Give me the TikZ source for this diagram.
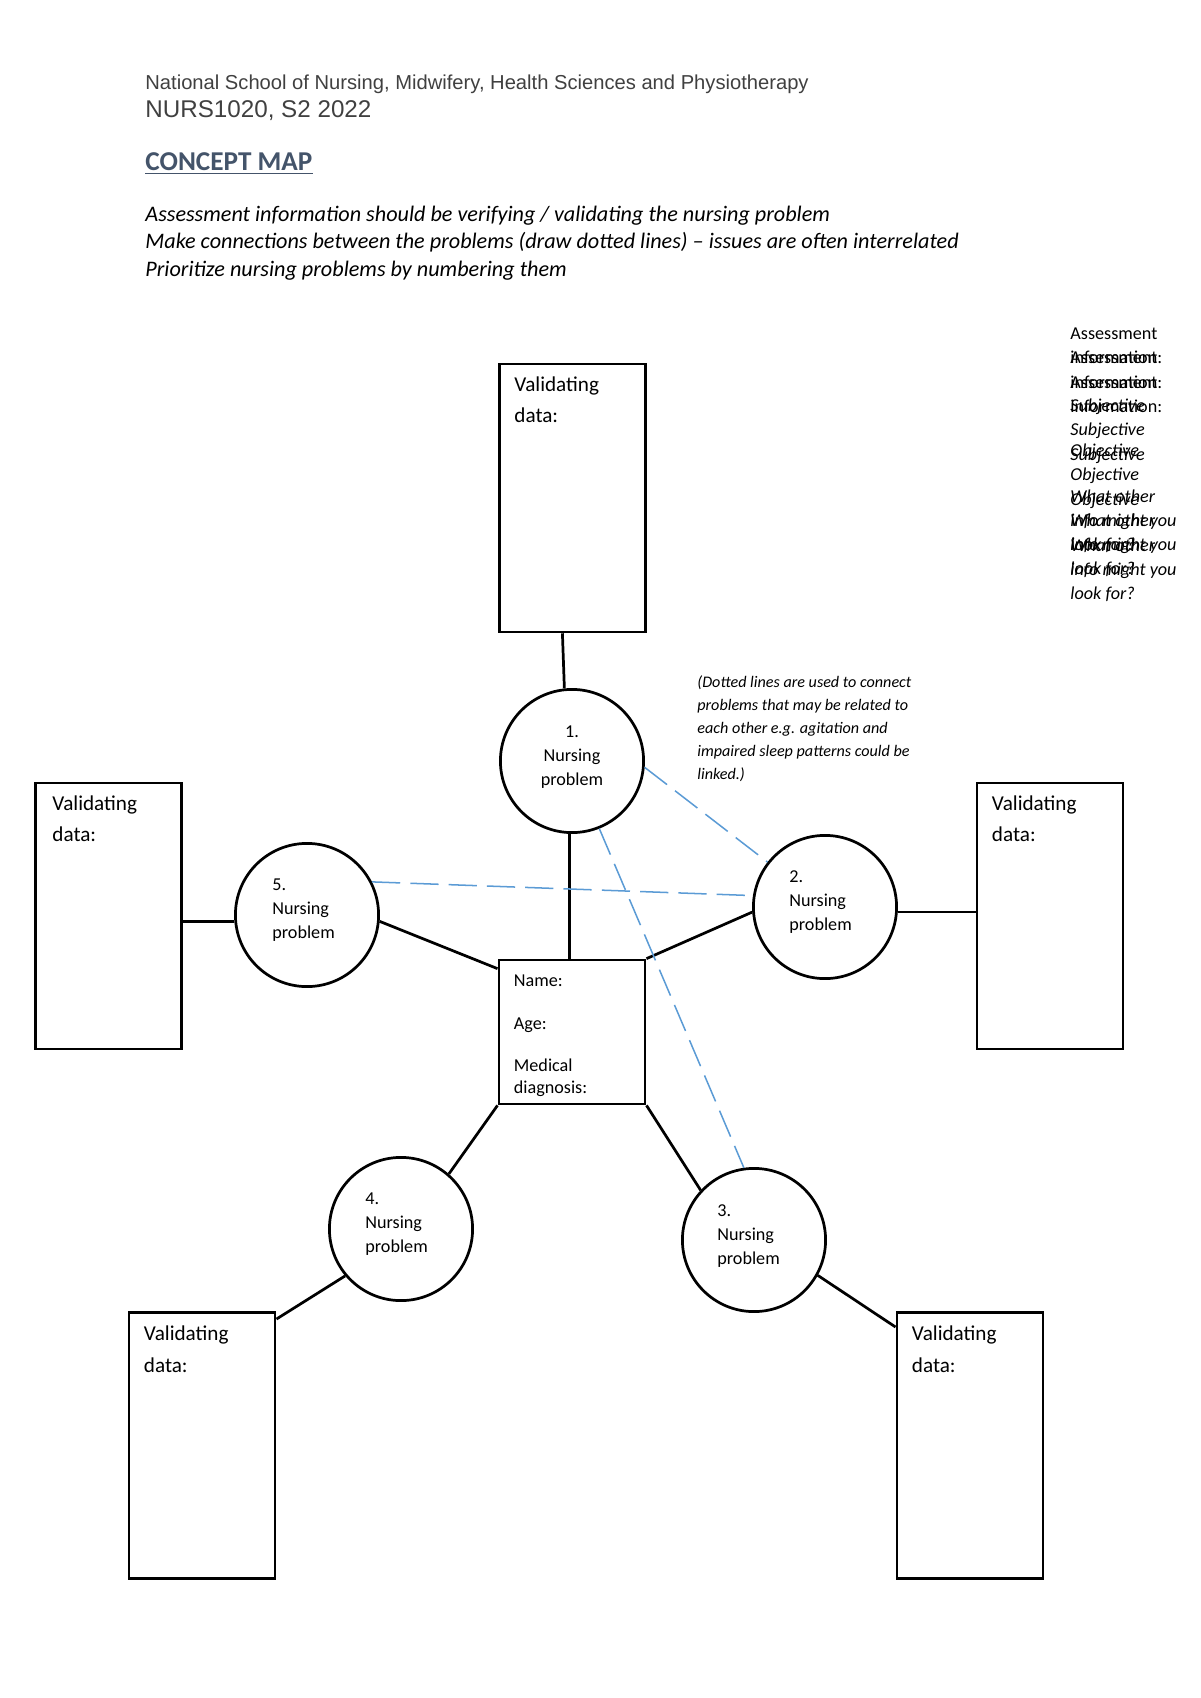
\documentclass[tikz,border=0pt]{standalone}
\usepackage{fontspec}
\setmainfont{Carlito}
\newfontfamily\arialf{Liberation Sans}
\usetikzlibrary{calc}
\definecolor{hdrgray}{HTML}{404040}
\definecolor{titleblue}{HTML}{44546A}
\definecolor{dashblue}{HTML}{5B9BD5}
\begin{document}
\begin{tikzpicture}[x=0.49583pt,y=-0.49583pt,
  vbox/.style={draw, line width=1.35pt, minimum width=72.5pt, minimum height=132pt, inner sep=0pt},
  prob/.style={draw, circle, line width=1.35pt, minimum size=71pt, inner sep=0pt},
  link/.style={line width=1.35pt},
  rel/.style={draw=dashblue, line width=0.75pt, dash pattern=on 14pt off 5pt},
  btxt/.style={anchor=base west, inner sep=0pt, align=left, font=\fontsize{10.5}{15.4}\selectfont},
  ptxt/.style={anchor=base west, inner sep=0pt, align=left, font=\fontsize{9}{11.9}\selectfont},
  rtx/.style={anchor=base west, inner sep=0pt, font=\fontsize{9}{11}\selectfont},
  rti/.style={anchor=base west, inner sep=0pt, font=\fontsize{9}{11}\selectfont\itshape},
  hdr/.style={anchor=base west, inner sep=0pt, text=hdrgray}
]
\useasboundingbox (0,0) rectangle (1200,1698);

% header
\node[hdr, font=\arialf\fontsize{10}{12}\selectfont] (h1) at (145,90) {National School of Nursing, Midwifery, Health Sciences and Physiotherapy};
\node[hdr, font=\arialf\fontsize{12}{14}\selectfont] (h2) at (145,117) {NURS1020, S2 2022};
\node[anchor=base west, inner sep=0pt, text=titleblue, font=\bfseries\fontsize{13.5}{16}\selectfont] (h3) at (145,170) {CONCEPT MAP};
\draw[titleblue, line width=0.8pt] ([yshift=-1.8pt]h3.base west) -- ([yshift=-1.8pt]h3.base east);
\node[anchor=base west, inner sep=0pt, align=left, font=\fontsize{11}{13.4}\selectfont\itshape] (instr) at (145,276)
  {Assessment information should be verifying / validating the nursing problem\\
   Make connections between the problems (draw dotted lines) -- issues are often interrelated\\
   Prioritize nursing problems by numbering them};

% right-hand overlapping text box (three offset copies)
\foreach \k in {0,1,2} {
  \node[rtx] (ra\k) at (1070,339+24.5*\k) {Assessment};
  \node[rtx] (rb\k) at (1070,363.5+24.5*\k) {information:};
  \node[rti] (rc\k) at (1070,411+24.5*\k) {Subjective};
  \node[rti] (rd\k) at (1070,456+24.5*\k) {Objective};
  \node[rti] (re\k) at (1070,502+24.5*\k) {What other};
  \node[rti] (rf\k) at (1070,526+24.5*\k) {info might you};
  \node[rti] (rg\k) at (1070,550+24.5*\k) {look for?};
}

% note
\node[anchor=base west, inner sep=0pt, align=left, font=\fontsize{8}{11.4}\selectfont\itshape] (note) at (697,779)
  {(Dotted lines are used to connect\\problems that may be related to\\each other e.g. agitation and\\impaired sleep patterns could be\\linked.)};

% boxes
\node[vbox, minimum height=132.8pt] (v1) at (572.5,498) {};
\node[vbox] (b5) at (108.5,916) {};
\node[vbox] (b2) at (1050,916) {};
\node[vbox] (b3) at (970,1445.5) {};
\node[vbox] (b4) at (202,1445.5) {};
\node[vbox, minimum height=71.4pt] (cb) at (572,1032) {};

% circles
\node[prob] (c1) at (572,761) {};
\node[prob] (c5) at (307,915) {};
\node[prob] (c2) at (825,907) {};
\node[prob] (c3) at (754,1240) {};
\node[prob] (c4) at (401,1229) {};

% texts in boxes (anchored on the last line's baseline)
\node[btxt] (v1t) at ($(v1.north west)+(16,60)$) {Validating\\data:};
\node[btxt] (b5t) at ($(b5.north west)+(18,60)$) {Validating\\data:};
\node[btxt] (b2t) at ($(b2.north west)+(16,60)$) {Validating\\data:};
\node[btxt] (b3t) at ($(b3.north west)+(16,61)$) {Validating\\data:};
\node[btxt] (b4t) at ($(b4.north west)+(16,61)$) {Validating\\data:};
\node[ptxt, font=\fontsize{9}{10.5}\selectfont] (cbt) at ($(cb.north west)+(16,134.5)$)
  {Name:\\[10.8pt]Age:\\[10.8pt]Medical\\diagnosis:};

% texts in circles
\node[ptxt, anchor=base, align=center] (c1t) at ($(c1.center)+(0,24)$) {1.\\Nursing\\problem};
\node[ptxt] (c5t) at ($(c5.center)+(-35,23)$) {5.\\Nursing\\problem};
\node[ptxt] (c2t) at ($(c2.center)+(-36,23)$) {2.\\Nursing\\problem};
\node[ptxt] (c3t) at ($(c3.center)+(-37,24)$) {3.\\Nursing\\problem};
\node[ptxt] (c4t) at ($(c4.center)+(-36,23)$) {4.\\Nursing\\problem};

% connectors
\draw[link] ([xshift=-5pt]v1.south) -- (c1.96);
\draw[link] (c1.268) -- (c1.268 |- cb.north);
\draw[link] (c5.185) -- (c5.185 -| b5.east);
\draw[link] (c5.-5) -- ($(cb.north west)+(0,10)$);
\draw[link] (cb.north east) -- (c2.184);
\draw[link] (c2.-4) -- (c2.-4 -| b2.west);
\draw[link] (cb.south east) -- (c3.137);
\draw[link] (c3.-29) -- ($(b3.north west)+(0,16)$);
\draw[link] (cb.south west) -- (c4.49);
\draw[link] (c4.220) -- ($(b4.north east)+(0,8)$);

% dashed relations
\draw[rel] (c1.-5) -- (c2.142);
\draw[rel] (c1.-68) -- (c3.98);
\draw[rel] (c5.27) -- (c2.171);
\end{tikzpicture}
\end{document}
